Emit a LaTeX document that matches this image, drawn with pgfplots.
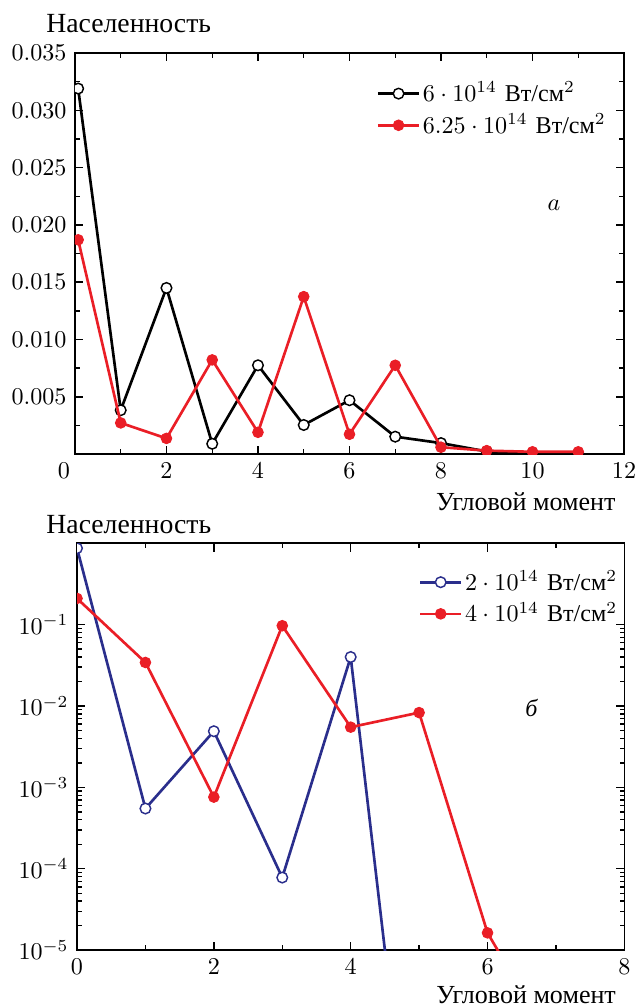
\documentclass[border=0pt]{standalone}
\usepackage{fontspec}
\usepackage{pgfplots}
\pgfplotsset{compat=1.18}
\newfontfamily\cyr{Liberation Serif}
\definecolor{myred}{RGB}{234,30,38}
\definecolor{myblue}{RGB}{42,46,140}

\pgfplotsset{every axis/.append style={
  scale only axis,
  axis line style={line width=0.7pt},
  tick style={line width=0.6pt, black},
  major tick length=3.5pt, minor tick length=2pt,
  tick align=inside,
  clip marker paths=true,
  legend style={draw=none, fill=none, anchor=north east, inner sep=0pt, row sep=1.5pt,
    nodes={inner sep=1pt}},
  legend cell align=left,
}}

\begin{document}
\begin{tikzpicture}
\useasboundingbox (-31.1pt,-229.4pt) rectangle (232.8pt,188.4pt);

% ---------- panel a ----------
\begin{axis}[name=A, at={(0,0)}, anchor=south west, width=227.8pt, height=166.4pt,
  xmin=0, xmax=12, ymin=0, ymax=0.035,
  xtick={2,4,...,12}, minor xtick={1,3,...,11},
  extra x ticks={0}, extra x tick style={xticklabel style={xshift=-4.6pt}},
  ytick={0.005,0.010,0.015,0.020,0.025,0.030,0.035},
  minor ytick={0.0025,0.0075,0.0125,0.0175,0.0225,0.0275,0.0325},
  scaled y ticks=false,
  yticklabel style={/pgf/number format/.cd, fixed, fixed zerofill, precision=3},
  legend style={at={(rel axis cs:0.972,0.935)}},
]
\addplot[black, line width=1.1pt, mark=*, mark size=2.2pt,
  mark options={fill=white, draw=black, line width=0.6pt}] coordinates {
 (0.07,0.0319) (1,0.00383) (2,0.0145) (3,0.0009) (4,0.00775) (5,0.00254)
 (6,0.0047) (7,0.00152) (8,0.00096) (9,0.00023) (10,0.00008) (11,0.00005)};
\addlegendentry{$6\cdot10^{14}$~{\cyr Вт/см}$^2$}
\addplot[myred, line width=1.1pt, mark=*, mark size=2.2pt,
  mark options={fill=myred, draw=myred, line width=0.4pt}] coordinates {
 (0.07,0.0187) (1,0.00272) (2,0.00137) (3,0.00822) (4,0.0019) (5,0.01374)
 (6,0.00173) (7,0.00775) (8,0.0006) (9,0.0003) (10,0.0002) (11,0.0002)};
\addlegendentry{$6.25\cdot10^{14}$~{\cyr Вт/см}$^2$}
\node at (axis cs:10.47,0.0217) {$a$};
\end{axis}
\node[anchor=west, font=\cyr\fontsize{11.5}{13}\selectfont] at (A.north west) [xshift=-15.4pt, yshift=12.4pt] {Населенность};
\node[anchor=east, font=\cyr\fontsize{10.8}{13}\selectfont] at (A.south east) [yshift=-19.6pt] {Угловой момент};

% ---------- panel b ----------
\begin{axis}[name=B, at={(0.85pt,-37pt)}, anchor=north west, width=227.1pt, height=168.8pt,
  ymode=log, xmin=0, xmax=8, ymin=1e-5, ymax=1,
  xtick={0,2,...,8}, minor xtick={1,3,5,7},
  ytick={1e-5,1e-4,1e-3,1e-2,1e-1},
  legend style={at={(rel axis cs:0.992,0.94)}},
]
\addplot[myblue, line width=1.1pt, mark=*, mark size=2.2pt,
  mark options={fill=white, draw=myblue, line width=0.6pt}] coordinates {
 (0,0.87) (1,5.5e-4) (2,4.9e-3) (3,7.8e-5) (4,0.040) (5,2.5e-9)};
\addlegendentry{$2\cdot10^{14}$~{\cyr Вт/см}$^2$}
\addplot[myred, line width=1.1pt, mark=*, mark size=2.2pt,
  mark options={fill=myred, draw=myred, line width=0.4pt}] coordinates {
 (0,0.21) (1,0.0343) (2,7.6e-4) (3,0.097) (4,0.0055) (5,0.0083) (6,1.63e-5) (7,6e-7)};
\addlegendentry{$4\cdot10^{14}$~{\cyr Вт/см}$^2$}
\node at (axis cs:6.64,0.0094) {\cyr\itshape б};
\end{axis}
\node[anchor=west, font=\cyr\fontsize{11.5}{13}\selectfont] at (B.north west) [xshift=-16.2pt, yshift=7.6pt] {Населенность};
\node[anchor=east, font=\cyr\fontsize{10.8}{13}\selectfont] at (B.south east) [yshift=-18.6pt] {Угловой момент};
\end{tikzpicture}
\end{document}
